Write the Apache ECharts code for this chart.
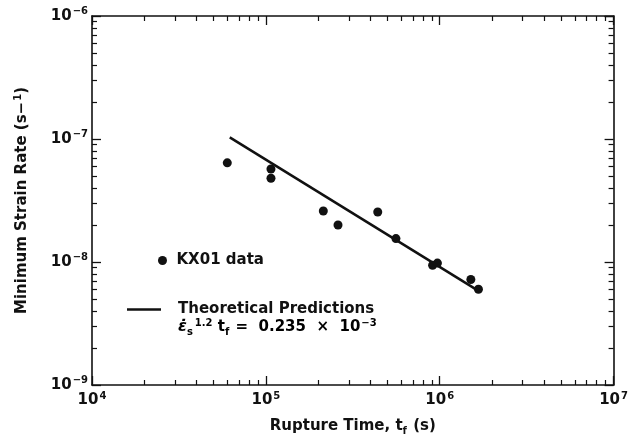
<!DOCTYPE html>
<html>
<head>
<meta charset="utf-8">
<style>
  html, body { margin: 0; padding: 0; background: #fff; }
  #chart { width: 631px; height: 443px; }
</style>
<script src="https://cdn.jsdelivr.net/npm/echarts@6/dist/echarts.min.js"></script>
</head>
<body>
<div id="chart"></div>
<script>
const elChart = document.getElementById('chart');

// Data
const ruptureTime = [6.0e4, 1.07e5, 1.07e5, 2.14e5, 2.6e5, 4.4e5, 5.6e5, 9.1e5, 9.7e5, 1.51e6, 1.67e6];
const strainRate = [6.4e-8, 5.7e-8, 4.8e-8, 2.6e-8, 2.0e-8, 2.55e-8, 1.55e-8, 9.4e-9, 9.8e-9, 7.2e-9, 6.0e-9];

const predictionTime = [6.2e4, 1.68e6];
const predictionRate = [1.03e-7, 5.8e-9];

// Axes
const xDecades = [1e4, 1e5, 1e6];
const yDecades = [1e-9, 1e-8, 1e-7];
const minorSteps = [2, 3, 4, 5, 6, 7, 8, 9];

const xMinorTicks = [];
xDecades.forEach(d => minorSteps.forEach(k => xMinorTicks.push(k * d)));
const yMinorTicks = [];
yDecades.forEach(d => minorSteps.forEach(k => yMinorTicks.push(k * d)));

const FONT = 'DejaVu Sans';
const INK = '#111';

const richText = {
    b: { fontFamily: FONT, fontWeight: 'bold', fontSize: 15, color: INK, verticalAlign: 'bottom', padding: [0, 0, 2, 0] },
    s: { fontFamily: FONT, fontWeight: 'bold', fontSize: 10, color: INK, verticalAlign: 'bottom', padding: [0, 0, 9, 1] },
    u: { fontFamily: FONT, fontWeight: 'bold', fontSize: 10, color: INK, verticalAlign: 'bottom', padding: [0, 1, 0, 0] },
    e: { fontFamily: FONT, fontWeight: 'bold', fontStyle: 'italic', fontSize: 16, color: INK, verticalAlign: 'bottom', padding: [0, 0, 2, 0] }
};

function powerLabel(value) {
    const exp = Math.round(Math.log10(value));
    return '{b|10}{s|' + String(exp).replace('-', '\u2212') + '}';
}

// main log axis: frame line, decade ticks, optional labels
function logAxis(position, min, max, isX, showLabel) {
    return {
        type: 'log',
        logBase: 10,
        position: position,
        min: min,
        max: max,
        axisLine: { show: true, lineStyle: { color: INK, width: 1.6 } },
        axisTick: { show: true, inside: true, length: 9, lineStyle: { color: INK, width: 1.3 } },
        minorTick: { show: false },
        splitLine: { show: false },
        axisLabel: {
            show: showLabel,
            margin: isX ? 6 : 4,
            formatter: powerLabel,
            rich: richText
        }
    };
}

// short 2..9 ticks, laid on a value axis in log10 units
function minorAxis(position, min, max, ticks) {
    return {
        type: 'value',
        position: position,
        min: Math.log10(min),
        max: Math.log10(max),
        axisLine: { show: false },
        axisTick: {
            show: true,
            inside: true,
            length: 5,
            lineStyle: { color: INK, width: 1.2 },
            customValues: ticks.map(Math.log10)
        },
        splitLine: { show: false },
        axisLabel: { show: false }
    };
}

const chart = echarts.init(elChart, null, { renderer: 'canvas' });

const xMain = logAxis('bottom', 1e4, 1e7, true, true);
xMain.name = '{b|Rupture Time, t}{u|f}{b| (s)}';
xMain.nameLocation = 'middle';
xMain.nameGap = 34;
xMain.nameTextStyle = { rich: richText };

const yMain = logAxis('left', 1e-9, 1e-6, false, true);
yMain.name = '{b|Minimum Strain Rate (s\u2212}{s|1}{b|)}';
yMain.nameLocation = 'middle';
yMain.nameGap = 60;
yMain.nameTextStyle = { rich: richText };

const option = {
    backgroundColor: '#fff',
    animation: false,
    grid: { left: 92, right: 9, top: 16, bottom: 58, containLabel: false },

    xAxis: [
        xMain,
        logAxis('top', 1e4, 1e7, true, false),
        minorAxis('bottom', 1e4, 1e7, xMinorTicks),
        minorAxis('top', 1e4, 1e7, xMinorTicks)
    ],
    yAxis: [
        yMain,
        logAxis('right', 1e-9, 1e-6, false, false),
        minorAxis('left', 1e-9, 1e-6, yMinorTicks),
        minorAxis('right', 1e-9, 1e-6, yMinorTicks)
    ],

    legend: [
        {
            data: [{ name: 'KX01 data', icon: 'circle' }],
            left: 158,
            top: 253,
            padding: 0,
            itemWidth: 18,
            itemHeight: 9,
            textStyle: { fontFamily: FONT, fontWeight: 'bold', fontSize: 15, color: INK }
        },
        {
            data: [{ name: 'Theoretical Predictions', icon: 'rect' }],
            left: 127,
            top: 302,
            padding: 0,
            itemWidth: 34,
            itemHeight: 2.5,
            itemStyle: { color: INK },
            textStyle: { fontFamily: FONT, fontWeight: 'bold', fontSize: 15, color: INK, padding: [0, 0, 0, 12] }
        }
    ],

    graphic: [
        {
            type: 'text',
            left: 178,
            top: 318,
            style: {
                text: '{e|\u03B5\u0307}{u|s}{s|1.2}{b| t}{u|f}{b| =  0.235  \u00D7  10}{s|\u22123}',
                rich: richText
            }
        }
    ],

    series: [
        {
            name: 'KX01 data',
            type: 'scatter',
            symbol: 'circle',
            symbolSize: 9,
            itemStyle: { color: INK, opacity: 1 },
            data: ruptureTime.map((t, i) => [t, strainRate[i]])
        },
        {
            name: 'Theoretical Predictions',
            type: 'line',
            symbol: 'none',
            itemStyle: { color: INK },
            lineStyle: { color: INK, width: 2.5 },
            data: predictionTime.map((t, i) => [t, predictionRate[i]])
        }
    ]
};

chart.setOption(option);
</script>
</body>
</html>
